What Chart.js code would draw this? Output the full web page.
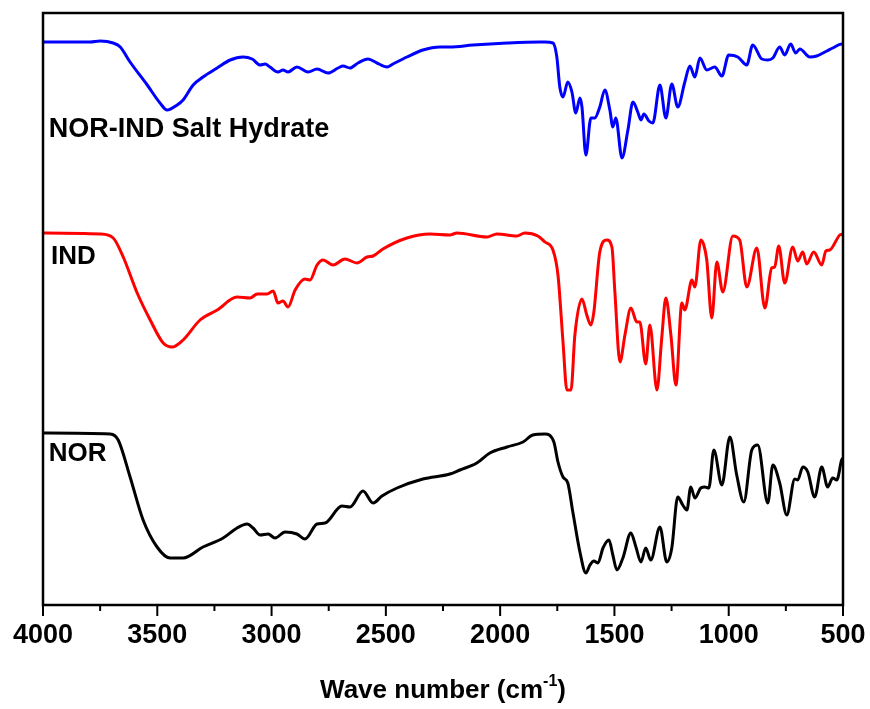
<!DOCTYPE html>
<html lang="en">
<head>
    <meta charset="UTF-8">
    <title>FTIR spectra</title>
    <script src="https://cdn.jsdelivr.net/npm/chart.js"></script>
    <style>
        html, body { margin: 0; padding: 0; background: #fff; }
        #wrap { width: 870px; height: 709px; }
    </style>
</head>
<body>
    <div id="wrap"><canvas id="ftirChart"></canvas></div>

    <script>
        // wave numbers (cm-1) and stacked transmittance (a.u.) for each sample
        const hydWn = [4000, 3794, 3750, 3693, 3662, 3619, 3544, 3488, 3457, 3413, 3387, 3343, 3300, 3238, 3181, 3125, 3085, 3050, 3028, 3007, 2972, 2950, 2928, 2889, 2840, 2801, 2753, 2709, 2687, 2657, 2622, 2578, 2539, 2495, 2469, 2408, 2338, 2263, 2220, 2119, 1970, 1826, 1804, 1769, 1752, 1739, 1725, 1704, 1686, 1669, 1651, 1642, 1625, 1603, 1586, 1564, 1542, 1520, 1507, 1494, 1467, 1441, 1419, 1398, 1384, 1371, 1349, 1332, 1301, 1275, 1249, 1223, 1192, 1170, 1148, 1126, 1096, 1061, 1030, 1000, 960, 921, 895, 855, 829, 807, 777, 755, 729, 707, 689, 645, 615, 571, 545, 506, 500];
        const hydT = [563, 563, 564, 562, 558, 543, 520, 502, 495, 500, 505, 520, 528, 537, 545, 548, 546, 540, 541, 538, 533, 535, 533, 538, 533, 536, 532, 537, 539, 537, 542, 546, 542, 538, 541, 548, 555, 558, 558, 560, 562, 563, 563, 562, 548, 518, 508, 523, 513, 492, 507, 498, 450, 487, 487, 498, 515, 495, 478, 487, 447, 475, 503, 493, 485, 491, 484, 482, 520, 487, 521, 498, 523, 539, 528, 547, 535, 538, 529, 550, 548, 540, 560, 546, 545, 547, 558, 550, 561, 552, 556, 548, 549, 554, 557, 561, 561];

        const indWn = [4000, 3750, 3693, 3649, 3588, 3531, 3474, 3435, 3387, 3313, 3238, 3151, 3094, 3063, 3020, 2993, 2972, 2950, 2928, 2897, 2854, 2832, 2801, 2775, 2731, 2679, 2626, 2582, 2556, 2513, 2408, 2307, 2220, 2189, 2058, 2014, 1927, 1892, 1835, 1804, 1769, 1747, 1725, 1708, 1690, 1673, 1642, 1621, 1603, 1590, 1564, 1533, 1511, 1498, 1476, 1454, 1428, 1402, 1389, 1363, 1345, 1314, 1293, 1275, 1253, 1231, 1205, 1192, 1161, 1148, 1122, 1109, 1096, 1074, 1052, 1026, 982, 952, 921, 877, 842, 812, 799, 781, 755, 720, 698, 676, 659, 628, 593, 575, 558, 514, 500];
        const indT = [372, 371, 367, 348, 312, 285, 262, 258, 265, 285, 295, 308, 307, 311, 311, 314, 302, 304, 298, 315, 326, 325, 340, 345, 340, 346, 342, 348, 349, 356, 367, 371, 370, 372, 368, 371, 369, 372, 369, 363, 355, 330, 263, 215, 215, 270, 306, 290, 280, 293, 353, 365, 358, 313, 243, 270, 297, 283, 283, 241, 280, 215, 267, 307, 270, 220, 302, 295, 325, 318, 365, 360, 345, 287, 343, 313, 369, 365, 318, 357, 297, 337, 338, 359, 322, 358, 344, 353, 341, 353, 340, 354, 355, 370, 371];

        const norWn = [4000, 3706, 3671, 3619, 3562, 3501, 3444, 3387, 3300, 3212, 3151, 3107, 3081, 3050, 3015, 2985, 2941, 2889, 2854, 2801, 2766, 2692, 2657, 2600, 2556, 2517, 2451, 2338, 2220, 2176, 2102, 2045, 1970, 1900, 1857, 1804, 1765, 1747, 1725, 1704, 1682, 1651, 1625, 1607, 1590, 1572, 1550, 1524, 1507, 1489, 1463, 1428, 1406, 1384, 1363, 1341, 1301, 1271, 1249, 1223, 1201, 1183, 1166, 1148, 1122, 1105, 1087, 1065, 1030, 995, 965, 934, 899, 873, 829, 807, 777, 746, 711, 698, 676, 654, 624, 593, 567, 545, 527, 506, 500];
        const norT = [172, 171, 165, 128, 85, 58, 47, 47, 58, 67, 77, 81, 77, 70, 71, 67, 73, 71, 66, 81, 82, 99, 98, 114, 102, 109, 117, 126, 131, 135, 142, 152, 158, 163, 170, 171, 163, 143, 128, 122, 93, 53, 32, 40, 44, 42, 57, 65, 50, 35, 47, 72, 58, 43, 57, 45, 78, 43, 57, 108, 100, 95, 118, 107, 117, 118, 117, 155, 120, 168, 130, 103, 155, 160, 102, 140, 122, 90, 126, 125, 138, 133, 108, 138, 118, 127, 125, 145, 147];

        const xTicks = [4000, 3500, 3000, 2500, 2000, 1500, 1000, 500];

        const toPoints = (wn, t) => wn.map((x, i) => ({ x: x, y: t[i] }));

        const FONT = '"Liberation Sans", Arial, sans-serif';

        // frame, minor/major ticks, curve names and axis title
        const decorations = {
            id: 'decorations',
            afterDraw(chart) {
                const { ctx, chartArea: a, scales: { x, y } } = chart;
                ctx.save();
                ctx.strokeStyle = '#000';
                ctx.lineWidth = 2.5;
                ctx.strokeRect(a.left, a.top, a.right - a.left, a.bottom - a.top);

                ctx.lineWidth = 2;
                for (let v = 500; v <= 4000; v += 250) {
                    const px = x.getPixelForValue(v);
                    const len = v % 500 === 0 ? 11 : 6;
                    ctx.beginPath();
                    ctx.moveTo(px, a.bottom);
                    ctx.lineTo(px, a.bottom + len);
                    ctx.stroke();
                }

                ctx.fillStyle = '#000';
                ctx.textBaseline = 'alphabetic';
                ctx.textAlign = 'left';
                ctx.font = 'bold 27px ' + FONT;
                ctx.fillText('NOR-IND Salt Hydrate', x.getPixelForValue(3975), y.getPixelForValue(468));
                ctx.font = 'bold 26px ' + FONT;
                ctx.fillText('IND', x.getPixelForValue(3965), y.getPixelForValue(341));
                ctx.fillText('NOR', x.getPixelForValue(3975), y.getPixelForValue(144));

                // axis title with superscript
                const main = 'Wave number (cm';
                const sup = '-1';
                const end = ')';
                ctx.font = 'bold 26px ' + FONT;
                const wMain = ctx.measureText(main).width;
                const wEnd = ctx.measureText(end).width;
                ctx.font = 'bold 16px ' + FONT;
                const wSup = ctx.measureText(sup).width;
                const cx = (a.left + a.right) / 2;
                let tx = cx - (wMain + wSup + wEnd) / 2;
                const base = 698;
                ctx.font = 'bold 26px ' + FONT;
                ctx.fillText(main, tx, base);
                tx += wMain;
                ctx.font = 'bold 16px ' + FONT;
                ctx.fillText(sup, tx, base - 12);
                tx += wSup;
                ctx.font = 'bold 26px ' + FONT;
                ctx.fillText(end, tx, base);
                ctx.restore();
            }
        };

        const line = (label, wn, t, color) => ({
            label: label,
            data: toPoints(wn, t),
            borderColor: color,
            borderWidth: 3,
            pointRadius: 0,
            cubicInterpolationMode: 'monotone',
            fill: false
        });

        new Chart(document.getElementById('ftirChart').getContext('2d'), {
            type: 'line',
            data: {
                datasets: [
                    line('NOR-IND Salt Hydrate', hydWn, hydT, '#0000ff'),
                    line('IND', indWn, indT, '#ff0000'),
                    line('NOR', norWn, norT, '#000000')
                ]
            },
            options: {
                responsive: true,
                maintainAspectRatio: false,
                animation: false,
                layout: { padding: { left: 43, right: 27, top: 13, bottom: 0 } },
                plugins: {
                    legend: { display: false },
                    tooltip: { enabled: false }
                },
                scales: {
                    x: {
                        type: 'linear',
                        min: 500,
                        max: 4000,
                        reverse: true,
                        grid: { display: false },
                        border: { display: false },
                        afterBuildTicks: (scale) => {
                            scale.ticks = xTicks.map(v => ({ value: v }));
                        },
                        afterFit: (scale) => {
                            scale.height = 104;
                            scale.paddingLeft = 0;
                            scale.paddingRight = 0;
                        },
                        ticks: {
                            color: '#000',
                            padding: 6,
                            maxRotation: 0,
                            autoSkip: false,
                            callback: (v) => String(v),
                            font: { family: FONT, size: 27, weight: 'bold' }
                        }
                    },
                    y: {
                        display: false,
                        min: 0,
                        max: 592
                    }
                }
            },
            plugins: [decorations]
        });
    </script>
</body>
</html>
